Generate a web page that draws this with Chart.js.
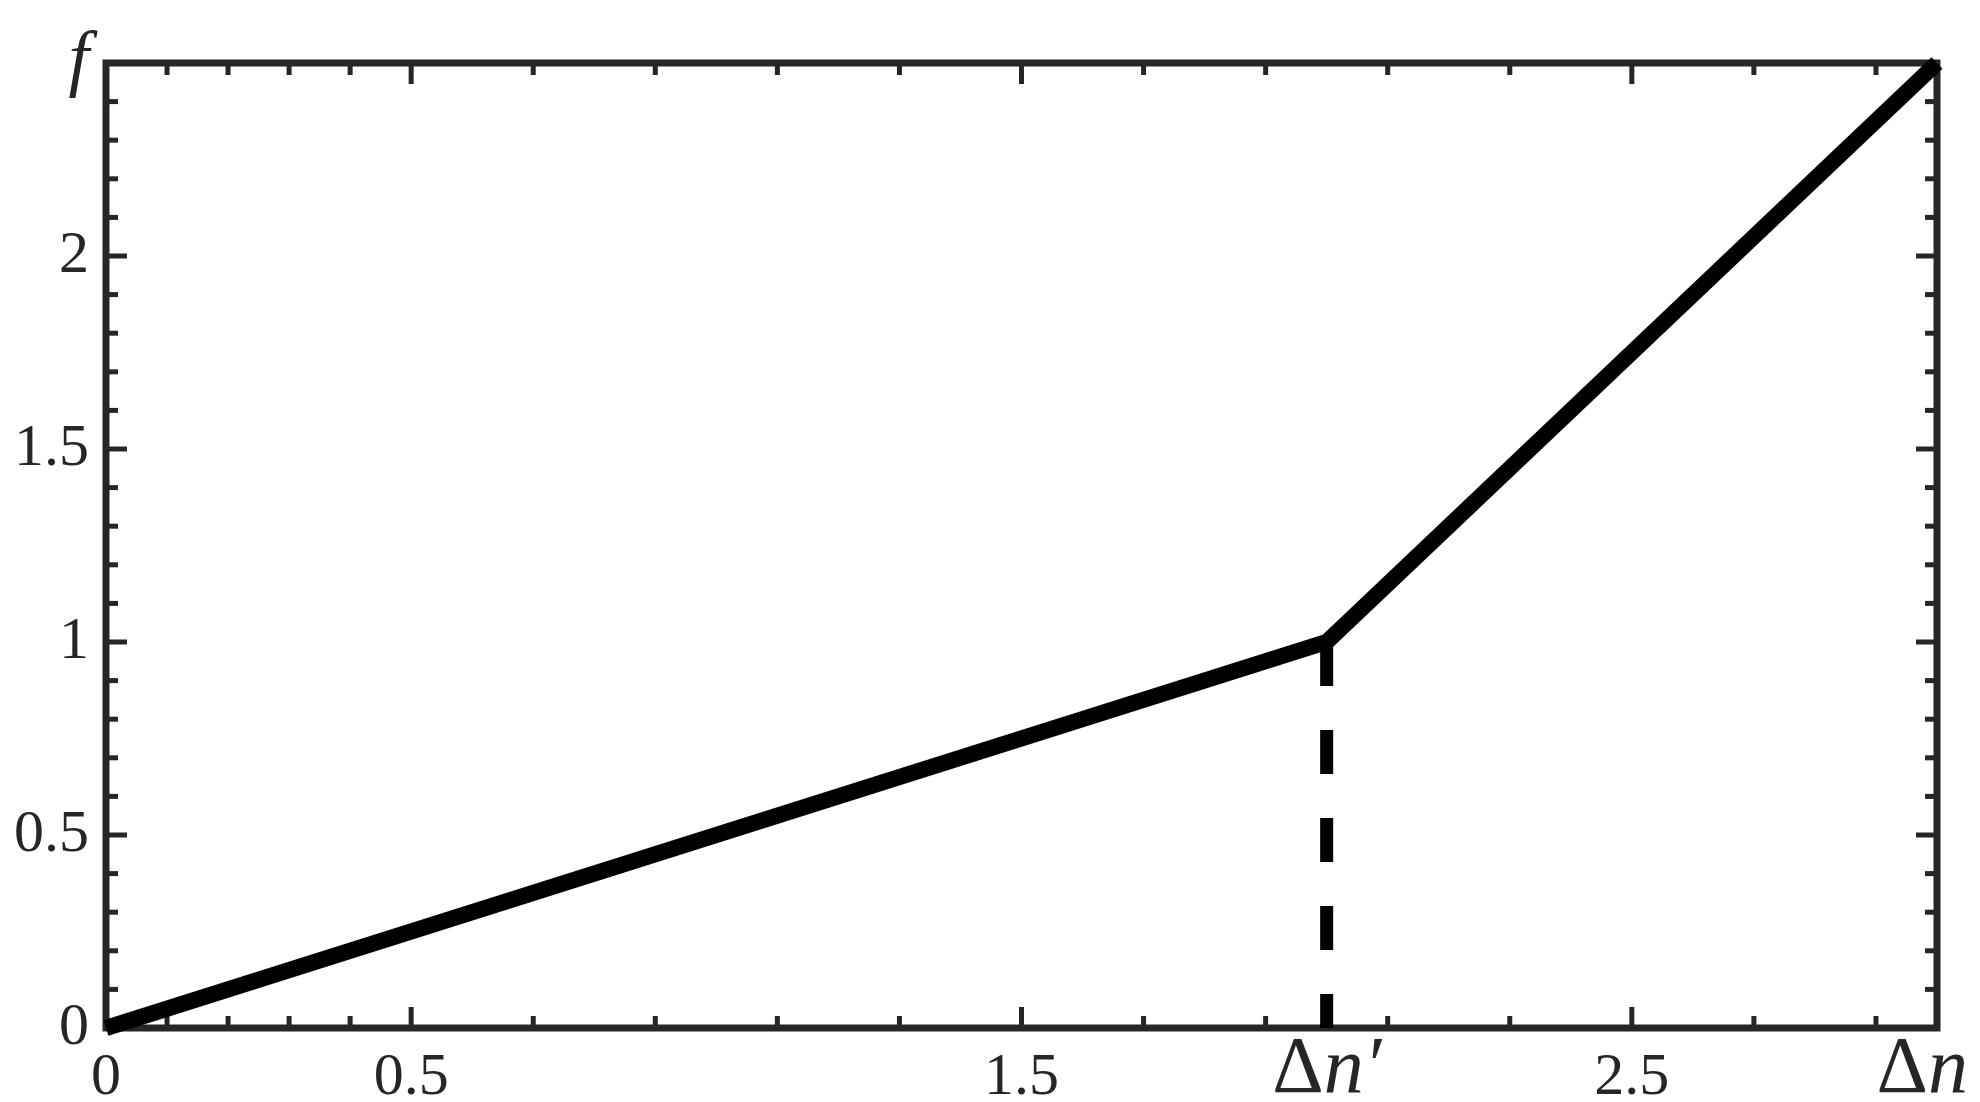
<!DOCTYPE html>
<html>
<head>
<meta charset="utf-8">
<title>f versus Δn</title>
<script src="https://cdn.jsdelivr.net/npm/chart.js@4.4.1/dist/chart.umd.min.js"></script>
<style>
    html, body { margin: 0; padding: 0; background: #fff; }
    .chart-box { width: 1980px; height: 1102px; }
</style>
</head>
<body>
<div class="chart-box"><canvas id="fChart"></canvas></div>
<script>
// piecewise curve f(Δn)
const curveX = [0, 2, 3];
const curveY = [0, 1, 2.5];

// dashed drop line under the knee
const markerX = [2, 2];
const markerY = [1, 0];

// labelled ticks
const xTickValues = [0, 0.5, 1.5, 2, 2.5, 3];
const xTickLabels = ['0', '0.5', '1.5', 'Δn′', '2.5', 'Δn'];
const yTickValues = [0, 0.5, 1, 1.5, 2, 2.5];
const yTickLabels = ['0', '0.5', '1', '1.5', '2', 'f'];

// tick marks drawn inside the frame
const xMajorTicks = [0.5, 1.5, 2.5];
const xMinorTicks = [0.1, 0.2, 0.3, 0.4, 0.7, 0.9, 1.1, 1.3, 1.7, 1.9, 2.1, 2.3, 2.7, 2.9];
const yMajorTicks = [0.5, 1, 1.5, 2];
const yMinorTicks = [0.1, 0.2, 0.3, 0.4, 0.6, 0.7, 0.8, 0.9, 1.1, 1.2, 1.3, 1.4,
    1.6, 1.7, 1.8, 1.9, 2.1, 2.2, 2.3, 2.4];

const INK = '#262626';
const SERIF = '"Liberation Serif", "DejaVu Serif", serif';

const toPoints = (xs, ys) => xs.map((v, i) => ({ x: v, y: ys[i] }));

// Frame + inward ticks on all four sides
const frameTicks = {
    id: 'frameTicks',
    beforeDatasetsDraw(chart) {
        const { ctx, chartArea: a, scales: { x, y } } = chart;
        const seg = (x1, y1, x2, y2) => {
            ctx.beginPath();
            ctx.moveTo(x1, y1);
            ctx.lineTo(x2, y2);
            ctx.stroke();
        };
        ctx.save();
        ctx.strokeStyle = INK;
        ctx.lineWidth = 5;
        const xTick = (v, len) => {
            const px = x.getPixelForValue(v);
            seg(px, a.bottom, px, a.bottom - len);
            seg(px, a.top, px, a.top + len);
        };
        const yTick = (v, len) => {
            const py = y.getPixelForValue(v);
            seg(a.left, py, a.left + len, py);
            seg(a.right, py, a.right - len, py);
        };
        xMinorTicks.forEach(v => xTick(v, 12));
        xMajorTicks.forEach(v => xTick(v, 21));
        yMinorTicks.forEach(v => yTick(v, 12));
        yMajorTicks.forEach(v => yTick(v, 21));

        ctx.lineWidth = 7;
        ctx.strokeRect(a.left, a.top, a.right - a.left, a.bottom - a.top);
        ctx.restore();
    }
};

// Δn labels: upright Δ, italic n
const deltaLabels = {
    id: 'deltaLabels',
    afterDraw(chart) {
        const { ctx, scales: { x } } = chart;
        const size = 80;
        const upright = `${size}px ${SERIF}`;
        const italic = `italic ${size}px ${SERIF}`;
        ctx.save();
        ctx.fillStyle = INK;
        ctx.textBaseline = 'alphabetic';
        ctx.textAlign = 'left';
        xTickLabels.forEach((label, i) => {
            if (!label.startsWith('Δ')) return;
            const rest = label.slice(1);
            ctx.font = upright;
            const wD = ctx.measureText('Δ').width;
            ctx.font = italic;
            const wR = ctx.measureText(rest).width;
            const total = wD + wR;
            const px = x.getPixelForValue(xTickValues[i]);
            let left = px - total / 2;
            const maxRight = chart.width - 12;
            if (left + total > maxRight) left = maxRight - total;
            const base = 1092;
            ctx.font = upright;
            ctx.fillText('Δ', left, base);
            ctx.font = italic;
            ctx.fillText(rest, left + wD, base);
        });
        ctx.restore();
    }
};

const ctx = document.getElementById('fChart').getContext('2d');
new Chart(ctx, {
    type: 'line',
    data: {
        datasets: [
            {
                label: 'f',
                data: toPoints(curveX, curveY),
                borderColor: '#000',
                borderWidth: 16,
                borderJoinStyle: 'miter',
                borderCapStyle: 'butt',
                pointRadius: 0,
                tension: 0,
                fill: false,
                clip: false
            },
            {
                label: 'Δn′',
                data: toPoints(markerX, markerY),
                borderColor: '#000',
                borderWidth: 13,
                borderDash: [44, 44],
                borderCapStyle: 'butt',
                pointRadius: 0,
                fill: false,
                clip: false
            }
        ]
    },
    options: {
        responsive: true,
        maintainAspectRatio: false,
        animation: false,
        layout: { padding: { top: 63, right: 43, left: 0, bottom: 0 } },
        plugins: {
            legend: { display: false },
            tooltip: { enabled: false }
        },
        scales: {
            x: {
                type: 'linear',
                position: 'bottom',
                min: 0,
                max: 3,
                afterBuildTicks: scale => {
                    scale.ticks = xTickValues.map(v => ({ value: v }));
                },
                afterFit: scale => { scale.height = 74; },
                grid: { display: false, drawTicks: false },
                border: { display: false },
                ticks: {
                    autoSkip: false,
                    maxRotation: 0,
                    padding: 14,
                    color: INK,
                    font: { family: SERIF, size: 60 },
                    callback: (v, i) => xTickLabels[i].startsWith('Δ') ? '' : xTickLabels[i]
                }
            },
            y: {
                type: 'linear',
                min: 0,
                max: 2.5,
                afterBuildTicks: scale => {
                    scale.ticks = yTickValues.map(v => ({ value: v }));
                },
                afterFit: scale => { scale.width = 106; },
                grid: { display: false, drawTicks: false },
                border: { display: false },
                ticks: {
                    autoSkip: false,
                    padding: 17,
                    color: INK,
                    font: c => yTickLabels[c.index] === 'f'
                        ? { family: SERIF, size: 74, style: 'italic' }
                        : { family: SERIF, size: 60 },
                    callback: (v, i) => yTickLabels[i]
                }
            }
        }
    },
    plugins: [frameTicks, deltaLabels]
});
</script>
</body>
</html>
